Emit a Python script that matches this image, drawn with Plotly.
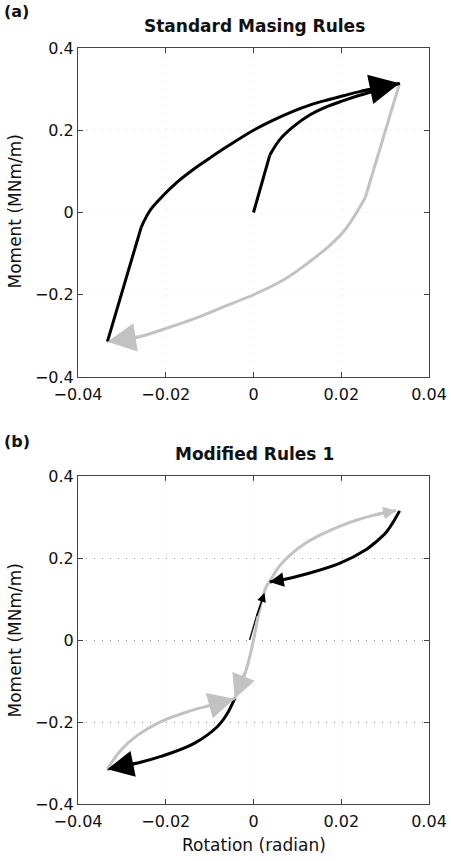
import plotly.graph_objects as go

# ---------------- data ----------------
# Panel (a): Standard Masing Rules
a_init_x = [0.0, 0.0037, 0.0059, 0.0090, 0.0128, 0.0166, 0.0205, 0.0242, 0.0287, 0.0333]
a_init_y = [0.0, 0.139, 0.176, 0.208, 0.237, 0.257, 0.272, 0.285, 0.299, 0.314]
a_init_knee = 1

a_reload_x = [-0.0333, -0.0256, -0.0237, -0.0214, -0.0176, -0.0138, -0.0100, -0.0062, 0.0,
              0.0044, 0.0090, 0.0128, 0.0166, 0.0205, 0.0242, 0.0333]
a_reload_y = [-0.314, -0.036, 0.003, 0.032, 0.072, 0.104, 0.132, 0.159, 0.200,
              0.224, 0.246, 0.261, 0.273, 0.284, 0.294, 0.314]
a_reload_knee = 1

a_unload_x = [0.0333, 0.0255, 0.0235, 0.0210, 0.0176, 0.0130, 0.0070, 0.0, -0.0070, -0.0130, -0.0200, -0.0260, -0.0333]
a_unload_y = [0.314, 0.037, 0.000, -0.040, -0.078, -0.118, -0.163, -0.200, -0.230, -0.256, -0.282, -0.302, -0.314]
a_unload_knee = 1

# Panel (b): Modified Rules 1
b_init_x = [-0.0009, 0.0006, 0.0025]
b_init_y = [0.0, 0.055, 0.115]

b_up_gray_x = [0.00365, 0.0059, 0.0082, 0.0120, 0.0158, 0.0196, 0.0234, 0.0272, 0.0325]
b_up_gray_y = [0.1415, 0.180, 0.206, 0.237, 0.259, 0.277, 0.292, 0.304, 0.316]

b_up_black_x = [0.0333, 0.0318, 0.0302, 0.0280, 0.0257, 0.0196, 0.0120, 0.0067, 0.00365]
b_up_black_y = [0.315, 0.287, 0.262, 0.240, 0.221, 0.187, 0.161, 0.147, 0.1415]

b_mid_gray_x = [0.00365, 0.0029, 0.00137, 0.0, -0.00167, -0.0043]
b_mid_gray_y = [0.1415, 0.130, 0.073, 0.0, -0.073, -0.143]

b_low_black_x = [-0.0043, -0.0060, -0.0082, -0.0135, -0.0211, -0.0264, -0.0333]
b_low_black_y = [-0.143, -0.180, -0.211, -0.252, -0.284, -0.300, -0.315]

b_low_gray_x = [-0.0333, -0.0302, -0.0264, -0.0211, -0.0150, -0.0097, -0.0043]
b_low_gray_y = [-0.315, -0.268, -0.232, -0.199, -0.175, -0.159, -0.143]

x_ticks = [-0.04, -0.02, 0, 0.02, 0.04]
x_tick_text = ["\u22120.04", "\u22120.02", "0", "0.02", "0.04"]
y_ticks = [-0.4, -0.2, 0, 0.2, 0.4]
y_tick_text = ["\u22120.4", "\u22120.2", "0", "0.2", "0.4"]

titles = ["Standard Masing Rules", "Modified Rules 1"]
panel_labels = ["(a)", "(b)"]
x_title = "Rotation (radian)"
y_title = "Moment (MNm/m)"

BLACK = "#000000"
GRAY = "#c2c2c2"
W, H = 451, 861

fig = go.Figure()


def add_line(xs, ys, color, width, ax_idx, shape="spline"):
    fig.add_trace(go.Scatter(x=xs, y=ys, mode="lines",
                             line=dict(color=color, width=width, shape=shape,
                                       smoothing=1.0 if shape == "spline" else None),
                             xaxis="x" if ax_idx == 1 else "x2",
                             yaxis="y" if ax_idx == 1 else "y2",
                             showlegend=False, hoverinfo="skip"))


def add_kneed(xs, ys, knee, color, width, ax_idx):
    # straight elastic branch up to the knee, then the smooth curved branch
    add_line(xs[:knee + 1], ys[:knee + 1], color, width, ax_idx, shape="linear")
    add_line(xs[knee:], ys[knee:], color, width, ax_idx, shape="spline")


annotations = []


def add_head(xs, ys, color, size, ax_idx, width=3):
    xr = "x" if ax_idx == 1 else "x2"
    yr = "y" if ax_idx == 1 else "y2"
    annotations.append(dict(x=xs[-1], y=ys[-1], ax=xs[-2], ay=ys[-2],
                            xref=xr, yref=yr, axref=xr, ayref=yr,
                            text="", showarrow=True, arrowhead=2,
                            arrowsize=size, arrowwidth=width, arrowcolor=color,
                            standoff=0))


# panel (a)
add_kneed(a_unload_x, a_unload_y, a_unload_knee, GRAY, 3, 1)
add_kneed(a_init_x, a_init_y, a_init_knee, BLACK, 3, 1)
add_kneed(a_reload_x, a_reload_y, a_reload_knee, BLACK, 3, 1)
add_head(a_unload_x, a_unload_y, GRAY, 1.9, 1)
add_head(a_reload_x, a_reload_y, BLACK, 2.0, 1)

# panel (b)
add_line(b_init_x, b_init_y, "#222222", 1.5, 2, shape="linear")
add_line(b_up_gray_x, b_up_gray_y, GRAY, 3, 2)
add_line(b_up_black_x, b_up_black_y, BLACK, 3, 2)
add_line(b_mid_gray_x, b_mid_gray_y, GRAY, 3, 2)
add_line(b_low_black_x, b_low_black_y, BLACK, 3, 2)
add_line(b_low_gray_x, b_low_gray_y, GRAY, 3, 2)
add_head(b_init_x, b_init_y, BLACK, 1.2, 2, width=1.5)
add_head(b_up_gray_x, b_up_gray_y, GRAY, 0.85, 2)
add_head(b_up_black_x, b_up_black_y, BLACK, 0.95, 2)
add_head(b_mid_gray_x, b_mid_gray_y, GRAY, 1.6, 2)
add_head(b_low_black_x, b_low_black_y, BLACK, 1.75, 2)
add_head(b_low_gray_x, b_low_gray_y, GRAY, 1.75, 2)

FONT = "DejaVu Sans"
tick_font = dict(family=FONT, size=16, color="#111111")


def paper(px, py):
    return px / W, 1 - py / H


# titles and labels
for title, cy in zip(titles, [26, 454]):
    x, y = paper(254, cy)
    annotations.append(dict(text="<b>%s</b>" % title, x=x, y=y, xref="paper", yref="paper",
                            xanchor="center", yanchor="middle", showarrow=False,
                            font=dict(family=FONT, size=17, color="#111111")))
for lab, cy in zip(panel_labels, [11, 441]):
    x, y = paper(2, cy)
    annotations.append(dict(text="<b>%s</b>" % lab, x=x, y=y, xref="paper", yref="paper",
                            xanchor="left", yanchor="middle", showarrow=False,
                            font=dict(family=FONT, size=16, color="#111111")))
for cy in [212, 641]:
    x, y = paper(14.5, cy)
    annotations.append(dict(text=y_title, x=x, y=y, xref="paper", yref="paper",
                            xanchor="center", yanchor="middle", showarrow=False, textangle=-90,
                            font=dict(family=FONT, size=17, color="#111111")))
x, y = paper(254, 845)
annotations.append(dict(text=x_title, x=x, y=y, xref="paper", yref="paper",
                        xanchor="center", yanchor="middle", showarrow=False,
                        font=dict(family=FONT, size=17, color="#111111")))

xdom = [78 / W, 429 / W]
common_x = dict(range=[-0.04, 0.04], tickvals=x_ticks, ticktext=x_tick_text, tickfont=tick_font,
                showline=True, linecolor="#444444", linewidth=1, mirror="ticks",
                ticks="inside", ticklen=5, tickcolor="#444444", ticklabelstandoff=3,
                showgrid=True, gridcolor="#e4e4e4", griddash="1px,7px", gridwidth=1,
                zeroline=False, domain=xdom, automargin=False, fixedrange=True)
common_y = dict(range=[-0.4, 0.4], tickvals=y_ticks, ticktext=y_tick_text, tickfont=tick_font,
                showline=True, linecolor="#444444", linewidth=1, mirror="ticks",
                ticks="inside", ticklen=5, tickcolor="#444444",
                showgrid=True, griddash="1px,7px", gridwidth=1,
                zeroline=False, automargin=False, fixedrange=True)

fig.update_layout(
    width=W, height=H,
    margin=dict(l=0, r=0, t=0, b=0),
    paper_bgcolor="white", plot_bgcolor="white",
    showlegend=False,
    xaxis=dict(common_x, anchor="y"),
    yaxis=dict(common_y, anchor="x", domain=[1 - 377 / H, 1 - 48 / H], gridcolor="#ededed"),
    xaxis2=dict(common_x, anchor="y2"),
    yaxis2=dict(common_y, anchor="x2", domain=[1 - 804 / H, 1 - 476 / H], gridcolor="#9a9a9a"),
    annotations=annotations,
    shapes=[dict(type="line", xref="x domain", yref="y", x0=0, x1=1, y0=y_ticks[3], y1=y_ticks[3],
                 line=dict(color="#8a8a8a", width=1, dash="1px,7px"), layer="below")],
)

fig.write_html("out.html")
